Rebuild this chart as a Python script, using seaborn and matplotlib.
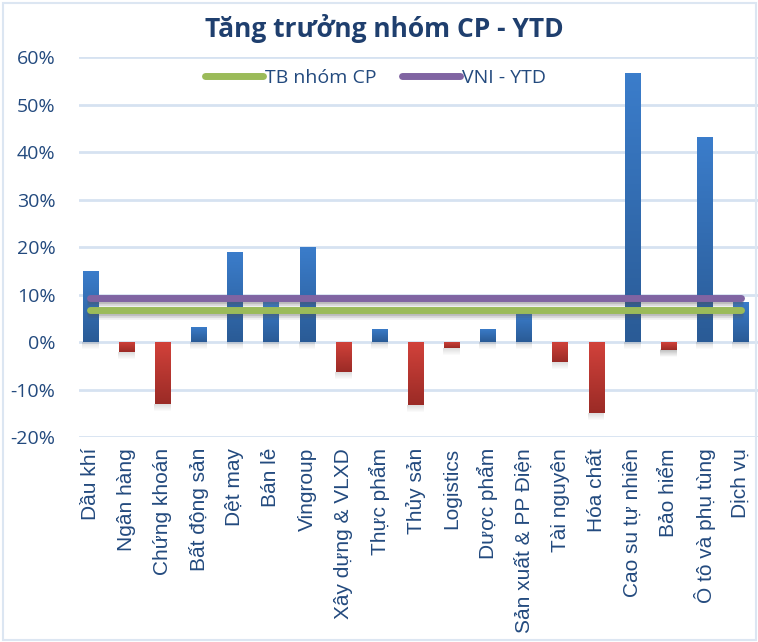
import numpy as np
import pandas as pd
import matplotlib
matplotlib.use("Agg")
import matplotlib.pyplot as plt
import matplotlib.transforms as mtransforms
from matplotlib.lines import Line2D
from matplotlib.colors import LinearSegmentedColormap
import seaborn as sns

# data (growth YTD, %)
sectors = [
    "Dầu khí", "Ngân hàng", "Chứng khoán", "Bất động sản", "Dệt may", "Bán lẻ",
    "Vingroup", "Xây dựng & VLXD", "Thực phẩm", "Thủy sản", "Logistics",
    "Dược phẩm", "Sản xuất & PP Điện", "Tài nguyên", "Hóa chất",
    "Cao su tự nhiên", "Bảo hiểm", "Ô tô và phụ tùng", "Dịch vụ",
]
growth = [15.0, -2.2, -13.1, 3.2, 19.0, 8.6, 20.1, -6.4, 2.8, -13.3, -1.3,
          2.8, 6.2, -4.3, -15.0, 56.7, -1.6, 43.2, 8.5]
tb_nhom_cp = 6.8   # average of the group
vni_ytd = 9.3      # VN-Index YTD

navy = "#234A7E"
blue_top, blue_bot = "#3B7DCB", "#2A5B96"
red_top, red_bot = "#D2423B", "#9B2B26"

df = pd.DataFrame({"sector": sectors, "growth": np.array(growth) / 100})
df["sign"] = np.where(df["growth"] >= 0, "pos", "neg")

sns.set_style("white")
plt.rcParams["font.family"] = ["Liberation Sans", "DejaVu Sans"]
calibri_like = ["Open Sans", "DejaVu Sans"]

fig = plt.figure(figsize=(7.58, 6.42), dpi=100)
ax = fig.add_axes([79 / 758, 0.3193, 679 / 758, 0.5919])

sns.barplot(data=df, x="sector", y="growth", hue="sign",
            palette={"pos": blue_top, "neg": red_top}, dodge=False,
            width=0.42, legend=False, ax=ax, zorder=3)

xlim = (-0.313, len(sectors) - 0.52)
yticks = np.round(np.arange(-0.2, 0.61, 0.1), 2)
ax.set_yticks(yticks)
ax.set_yticklabels([f"{int(round(t * 100))}%" for t in yticks],
                   family=calibri_like)
ax.yaxis.grid(True, color="#D6E2F1", linewidth=2, zorder=0)
ax.set_axisbelow(True)
for s in ax.spines.values():
    s.set_visible(False)

# gradient fill + soft shadow on bars
blue_cm = LinearSegmentedColormap.from_list("b", [blue_top, blue_bot])
red_cm = LinearSegmentedColormap.from_list("r", [red_top, red_bot])
grad = np.linspace(0, 1, 64).reshape(-1, 1)
px = 0.8 / 380  # data units per pixel on y
for p in list(ax.patches):
    x0, w = p.get_x(), p.get_width()
    y0, h = p.get_y(), p.get_height()
    if w == 0 or h == 0:
        continue
    lo, hi = min(y0, y0 + h), max(y0, y0 + h)
    for k in range(1, 8):
        sh = mtransforms.offset_copy(ax.transData, fig=fig, x=0, y=-k, units="dots")
        ax.add_patch(plt.Rectangle((x0 - 0.02, lo), w + 0.04, 1.5 * px, transform=sh,
                                   facecolor="black", alpha=0.15 * (1 - k / 8),
                                   lw=0, zorder=2))
    cm = blue_cm if (y0 + h) >= 0 else red_cm
    im = ax.imshow(grad, cmap=cm, aspect="auto", extent=(x0, x0 + w, lo, hi),
                   origin="upper", zorder=3, interpolation="bilinear")
    im.set_clip_path(p)
    p.set_facecolor("none")
    p.set_edgecolor("none")

ax.set_xlim(*xlim)
ax.set_ylim(-0.2, 0.6)

# reference lines
xs = np.arange(len(sectors))
for val, col in [(vni_ytd, "#8064A2"), (tb_nhom_cp, "#9BBB59")]:
    for k, a in [(3, 0.22), (5, 0.16), (7, 0.09)]:
        sh = mtransforms.offset_copy(ax.transData, fig=fig, x=0, y=-k, units="dots")
        ax.plot(xs, [val / 100] * len(xs), color="#555555", alpha=a, lw=4,
                solid_capstyle="round", transform=sh, zorder=4)
    ax.plot(xs, [val / 100] * len(xs), color=col, lw=5,
            solid_capstyle="round", zorder=5)

ax.set_xlabel("")
ax.set_ylabel("")
ax.tick_params(axis="y", labelsize=14, labelcolor=navy, length=0, pad=17)
ax.tick_params(axis="x", labelsize=15, labelcolor=navy, length=0, pad=8)
plt.setp(ax.get_xticklabels(), rotation=90, ha="center", va="top")

handles = [Line2D([], [], color="#9BBB59", lw=5, solid_capstyle="round"),
           Line2D([], [], color="#8064A2", lw=5, solid_capstyle="round")]
ax.legend(handles, ["TB nhóm CP", "VNI - YTD"], loc="center",
          bbox_to_anchor=(0.437, 0.945), ncol=2, frameon=False,
          prop={"family": calibri_like, "size": 14},
          labelcolor=navy, handlelength=3.0, handletextpad=0.1, columnspacing=1.3)

fig.text(0.507, 0.956, "Tăng trưởng nhóm CP - YTD", ha="center", va="center",
         fontsize=19, fontweight="bold", color="#1F3F6E",
         family=calibri_like)

# light chart-area border
fig.patches.append(plt.Rectangle((0.004, 0.003), 0.994, 0.993, transform=fig.transFigure,
                                 fill=False, edgecolor="#DCE6F2", lw=1.5))

fig.savefig("out.png", dpi=100, facecolor="white")
